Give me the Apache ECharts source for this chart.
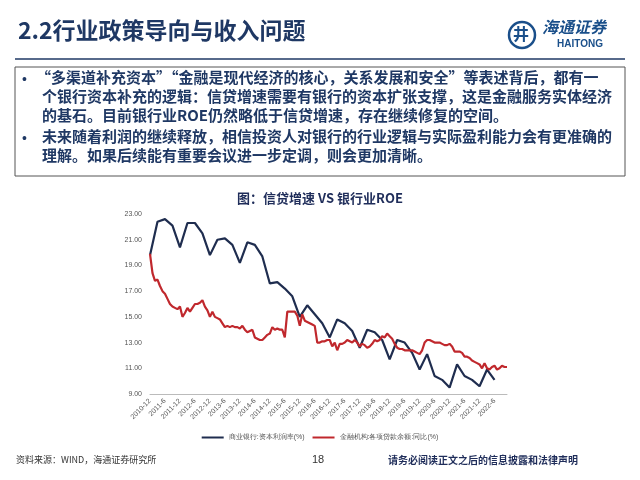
<!DOCTYPE html>
<html><head><meta charset="utf-8">
<script src="https://cdn.jsdelivr.net/npm/echarts@6/dist/echarts.min.js"></script>
<style>html,body{margin:0;padding:0;background:#fff}#c{width:640px;height:480px}</style>
</head><body><div id="c"></div>
<script>
const roeQuarterly = [19.8,22.4,22.6,22.1,20.4,22.3,22.3,21.5,19.8,21.0,21.1,20.6,19.2,20.8,20.6,19.7,17.6,17.7,17.2,16.6,15.0,15.9,15.2,14.5,13.4,14.8,14.5,13.9,12.6,14.0,13.8,13.2,11.7,13.2,13.0,12.2,10.9,12.1,10.4,10.1,9.5,11.3,10.4,10.1,9.6,10.9,10.1];
const loanGrowth = [19.9,
18.4,17.8,17.9,17.4,17.0,16.8,16.4,16.0,15.8,15.7,15.6,15.8,
15.0,15.3,15.7,15.4,15.7,16.0,16.0,16.1,16.3,15.8,15.5,15.0,
15.4,15.0,14.9,14.8,14.5,14.2,14.3,14.2,14.3,14.2,14.2,14.1,
14.3,14.0,13.8,13.9,14.0,13.4,13.3,13.2,13.2,13.4,13.6,13.7,
14.2,14.0,14.1,14.0,14.0,13.4,15.4,15.4,15.4,15.4,15.1,14.3,
15.2,14.7,14.6,14.5,14.4,14.3,13.0,13.0,13.1,13.1,13.2,13.2,
12.7,13.0,12.4,12.9,12.9,13.0,13.2,13.1,13.0,13.2,13.0,12.7,
12.9,12.8,12.6,12.7,12.9,13.2,13.1,13.2,13.5,13.4,13.7,13.5,
13.3,12.9,12.6,12.5,12.5,12.4,12.4,12.4,12.4,12.3,12.2,12.1,
12.4,13.0,13.2,13.2,13.1,13.0,13.0,13.0,12.9,12.8,12.8,12.9,
12.7,12.3,12.3,12.3,12.2,11.9,11.9,11.8,11.6,11.5,11.4,11.3,
11.0,11.4,11.0,10.9,11.1,11.2,10.9,11.0,11.2,11.1,11.1];
const seriesNames = ['商业银行:资本利润率(%)','金融机构:各项贷款余额:同比(%)'];
const categories = [];
for (let i = 0; i < loanGrowth.length; i++) {
  const m = 11 + i; const y = 2010 + Math.floor(m / 12); const mm = m % 12 + 1;
  categories.push(y + '-' + mm);
}
const roeMonthly = categories.map((c, i) => i % 3 === 0 && roeQuarterly[i/3] !== undefined ? roeQuarterly[i/3] : null);
const navy = '#1f3864';
const chart = echarts.init(document.getElementById('c'));
const lines1 = ['“多渠道补充资本”“金融是现代经济的核心，关系发展和安全”等表述背后，都有一','个银行资本补充的逻辑：信贷增速需要有银行的资本扩张支撑，这是金融服务实体经济','的基石。目前银行业ROE仍然略低于信贷增速，存在继续修复的空间。'];
const lines2 = ['未来随着利润的继续释放，相信投资人对银行的行业逻辑与实际盈利能力会有更准确的','理解。如果后续能有重要会议进一步定调，则会更加清晰。'];
const txt = [];
const ys = [80,99,118,139,158];
[...lines1, ...lines2].forEach((t, i) => {
  txt.push({type:'text', left: i===0 ? 36 : 42, top: ys[i]-10, style:{text:t, fill:navy, font:'bold 15px "Noto Sans CJK SC"'}});
});
chart.setOption({
  animation:false,
  title:{text:'图：信贷增速 VS 银行业ROE', left:'center', top:187, textStyle:{fontSize:13, fontWeight:'bold', color:'#1f2d5a', fontFamily:'Noto Sans CJK SC'}},
  grid:{left:150, right:133, top:214, bottom:86},
  legend:{bottom:34, left:'center', itemWidth:22, itemHeight:2, icon:'rect', textStyle:{fontSize:7, color:'#555'}, data:seriesNames},
  xAxis:{type:'category', data:categories, boundaryGap:false,
    axisLine:{lineStyle:{color:'#bbb'}}, axisTick:{show:false},
    axisLabel:{interval:5, rotate:45, fontSize:7, color:'#555', margin:6}},
  yAxis:{type:'value', min:9, max:23, interval:2, splitLine:{show:false}, axisLine:{show:false},
    axisLabel:{fontSize:7, color:'#555', formatter:v=>v.toFixed(2)}},
  series:[
    {name:seriesNames[0], type:'line', data:roeMonthly, connectNulls:true, showSymbol:false, lineStyle:{width:2.2, color:'#1f2d4f'}, itemStyle:{color:'#1f2d4f'}},
    {name:seriesNames[1], type:'line', data:loanGrowth, showSymbol:false, lineStyle:{width:2.2, color:'#c0282d'}, itemStyle:{color:'#c0282d'}}
  ],
  graphic:[
    {type:'text', left:18, top:19, style:{text:'2.2行业政策导向与收入问题', fill:navy, font:'bold 23px "Noto Sans CJK SC"'}},
    {type:'circle', shape:{cx:522, cy:35, r:13}, style:{fill:'none', stroke:'#1a4f8a', lineWidth:2.5}},
    {type:'text', left:513, top:26, style:{text:'井', fill:'#1a4f8a', font:'bold 16px "Noto Sans CJK SC"'}},
    {type:'text', left:542, top:19, style:{text:'海通证券', fill:'#1a4f8a', font:'italic bold 16px "Noto Sans CJK SC"'}},
    {type:'text', left:557, top:39, style:{text:'HAITONG', fill:'#1a4f8a', font:'bold 10px Arial'}},
    {type:'line', shape:{x1:15, y1:59, x2:625, y2:59}, style:{stroke:'#1f3864', lineWidth:1.5}},
    {type:'rect', shape:{x:15, y:67, width:610, height:109}, style:{fill:'none', stroke:'#555', lineWidth:1}},
    {type:'text', left:22, top:73, style:{text:'•', fill:navy, font:'14px sans-serif'}},
    {type:'text', left:22, top:132, style:{text:'•', fill:navy, font:'14px sans-serif'}},
    ...txt,
    {type:'text', left:16, top:455, style:{text:'资料来源：WIND，海通证券研究所', fill:'#333', font:'9px "Noto Sans CJK SC"'}},
    {type:'text', left:312, top:454, style:{text:'18', fill:'#333', font:'11px Arial'}},
    {type:'text', left:388, top:455, style:{text:'请务必阅读正文之后的信息披露和法律声明', fill:'#1f2d5a', font:'bold 10px "Noto Sans CJK SC"'}}
  ]
});
</script></body></html>
